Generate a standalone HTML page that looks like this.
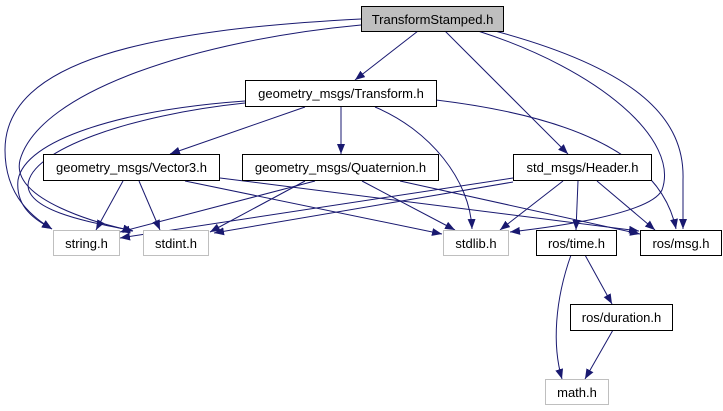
<!DOCTYPE html>
<html><head><meta charset="utf-8"><style>
html,body{margin:0;padding:0;background:#fff;width:723px;height:411px;overflow:hidden}
svg{display:block}
text{font-family:"Liberation Sans",Arial,sans-serif;font-size:13px;fill:#000}
</style></head><body>
<svg width="723" height="411" viewBox="0 0 723 411" xmlns="http://www.w3.org/2000/svg">
<defs>
<marker id="a" markerWidth="10" markerHeight="8" refX="10" refY="4" orient="auto" markerUnits="userSpaceOnUse">
<path d="M0,0 L10,4 L0,8 Z" fill="#191970"/>
</marker>
</defs>
<g fill="none" stroke="#191970" stroke-width="1" marker-end="url(#a)">
<path d="M418,31 L355,80"/>
<path d="M361,19 C150,30 5,60 5,150 C5,200 38,220 52,229"/>
<path d="M361,25 C200,40 40,90 20,160 C10,200 100,224 133,231"/>
<path d="M445,31 L568,154"/>
<path d="M495,31 C640,70 685,120 683,180 L683,229"/>
<path d="M478,31 C600,70 680,140 662,190 C650,215 545,228 510,232"/>
<path d="M305,107 L170,154"/>
<path d="M341,107 L341,154"/>
<path d="M375,107 C430,130 470,180 472,229"/>
<path d="M436,100 C560,115 660,150 676,229"/>
<path d="M245,101 C120,110 25,140 18,180 C15,210 40,222 52,229"/>
<path d="M245,103 C130,115 30,150 28,185 C28,215 110,225 133,231"/>
<path d="M123,181 L96,230"/>
<path d="M139,181 L160,230"/>
<path d="M185,181 L442,234"/>
<path d="M220,178 L639,231"/>
<path d="M315,181 L120,232"/>
<path d="M305,181 L210,232"/>
<path d="M362,181 L455,230"/>
<path d="M400,181 L640,234"/>
<path d="M513,178 L120,238"/>
<path d="M513,182 L214,233"/>
<path d="M563,181 L500,230"/>
<path d="M578,181 L576,230"/>
<path d="M597,181 L655,230"/>
<path d="M585,255 L612,304"/>
<path d="M571,255 C555,300 552,345 562,379"/>
<path d="M613,330 L585,379"/>
</g>
<g stroke-width="1">
<rect x="361.5" y="6.5" width="142" height="25" fill="#bfbfbf" stroke="#000"/>
<rect x="245.5" y="80.5" width="191" height="26" fill="#fff" stroke="#000"/>
<rect x="43.5" y="154.5" width="176" height="26" fill="#fff" stroke="#000"/>
<rect x="242.5" y="154.5" width="196" height="26" fill="#fff" stroke="#000"/>
<rect x="513.5" y="154.5" width="138" height="26" fill="#fff" stroke="#000"/>
<rect x="53.5" y="230.5" width="66" height="25" fill="#fff" stroke="#bfbfbf"/>
<rect x="143.5" y="230.5" width="65" height="25" fill="#fff" stroke="#bfbfbf"/>
<rect x="443.5" y="230.5" width="65" height="25" fill="#fff" stroke="#bfbfbf"/>
<rect x="536.5" y="230.5" width="80" height="25" fill="#fff" stroke="#000"/>
<rect x="640.5" y="230.5" width="81" height="25" fill="#fff" stroke="#000"/>
<rect x="570.5" y="304.5" width="102" height="26" fill="#fff" stroke="#000"/>
<rect x="545.5" y="379.5" width="63" height="25" fill="#fff" stroke="#bfbfbf"/>
</g>
<g text-anchor="middle">
<text x="432.5" y="24">TransformStamped.h</text>
<text x="341" y="98">geometry_msgs/Transform.h</text>
<text x="131.5" y="172">geometry_msgs/Vector3.h</text>
<text x="340.5" y="172">geometry_msgs/Quaternion.h</text>
<text x="582.5" y="172">std_msgs/Header.h</text>
<text x="86.5" y="248">string.h</text>
<text x="176" y="248">stdint.h</text>
<text x="476" y="248">stdlib.h</text>
<text x="576.5" y="248">ros/time.h</text>
<text x="681" y="248">ros/msg.h</text>
<text x="621.5" y="322">ros/duration.h</text>
<text x="577" y="397">math.h</text>
</g>
</svg>
</body></html>
